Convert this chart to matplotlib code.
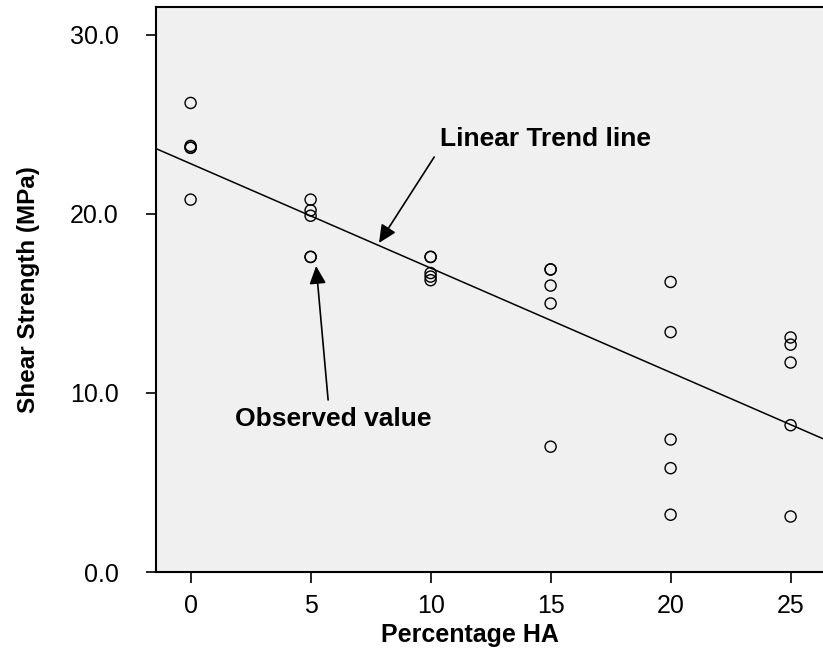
import numpy as np
import matplotlib
matplotlib.use("Agg")
import matplotlib.pyplot as plt

plt.rcParams['font.family'] = ['Liberation Sans', 'DejaVu Sans']

# shear strength (MPa) measured at each HA percentage
ha_pct = [0, 0, 0, 0, 0,
          5, 5, 5, 5, 5,
          10, 10, 10, 10, 10,
          15, 15, 15, 15, 15,
          20, 20, 20, 20, 20,
          25, 25, 25, 25, 25]
shear = [26.2, 23.8, 23.7, 23.7, 20.8,
         20.8, 20.2, 19.9, 17.6, 17.6,
         17.6, 17.6, 16.7, 16.5, 16.3,
         16.9, 16.9, 16.0, 15.0, 7.0,
         16.2, 13.4, 7.4, 5.8, 3.2,
         13.1, 12.7, 11.7, 8.2, 3.1]

x_ticks = [0, 5, 10, 15, 20, 25]
y_ticks = [0, 10, 20, 30]

x = np.array(ha_pct, dtype=float)
y = np.array(shear)
slope, icpt = np.polyfit(x, y, 1)

fig = plt.figure(figsize=(8.23, 6.59), dpi=100)
ax = fig.add_axes([0.1896, 0.132, 0.8104, 0.8574])
ax.set_facecolor('#f0f0f0')

xlo, xhi = -1.44, 26.35
ax.set_xlim(xlo, xhi)
ax.set_ylim(0, 31.56)

xl = np.array([xlo, xhi])
ax.plot(xl, icpt + slope * xl, color='black', lw=1.1)
ax.scatter(x, y, s=64, facecolors='none', edgecolors='black', linewidths=1.0, zorder=3)

ax.set_xticks(x_ticks)
ax.set_xticklabels([str(t) for t in x_ticks])
ax.set_yticks(y_ticks)
ax.set_yticklabels(['%.1f' % t for t in y_ticks])
ax.tick_params(axis='x', direction='out', length=8, width=1.2, labelsize=18, pad=8)
ax.tick_params(axis='y', direction='out', length=7, width=1.2, labelsize=18, pad=20)

for side in ['left', 'top', 'bottom']:
    ax.spines[side].set_linewidth(1.5)
ax.spines['right'].set_visible(False)

ax.set_xlabel('Percentage HA', fontsize=18, fontweight='bold')
ax.xaxis.set_label_coords(0.471, -0.112, transform=ax.transAxes)
ax.xaxis.label.set_va('center')
ax.set_ylabel('Shear Strength (MPa)', fontsize=17.5, fontweight='bold', labelpad=21)

arrow = dict(arrowstyle='-|>,head_length=0.6,head_width=0.28', mutation_scale=18,
             color='black', lw=1.2, shrinkA=0, shrinkB=0)
ax.annotate('', xy=(7.85, 18.38), xytext=(10.15, 23.18), arrowprops=arrow)
ax.text(10.4, 23.82, 'Linear Trend line', fontsize=19, fontweight='bold', va='baseline')
ax.annotate('', xy=(5.23, 17.09), xytext=(5.73, 9.61), arrowprops=arrow)
ax.text(1.85, 8.16, 'Observed value', fontsize=19, fontweight='bold', va='baseline')

fig.savefig('out.png', dpi=100)
